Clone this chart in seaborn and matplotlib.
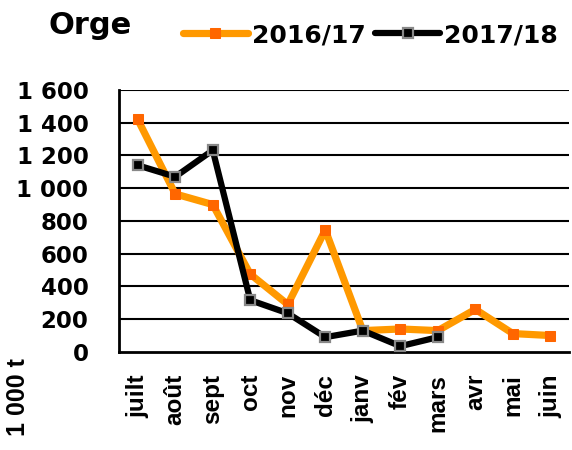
import numpy as np
import pandas as pd
import matplotlib
matplotlib.use("Agg")
import matplotlib.pyplot as plt
import seaborn as sns

# monthly values, 1 000 t
months = ['juilt', 'août', 'sept', 'oct', 'nov', 'déc', 'janv', 'fév', 'mars', 'avr', 'mai', 'juin']
vals_1617 = [1420, 965, 900, 475, 290, 745, 130, 140, 130, 260, 112, 100]
vals_1718 = [1140, 1070, 1232, 316, 236, 90, 130, 35, 90, np.nan, np.nan, np.nan]
yticks = [0, 200, 400, 600, 800, 1000, 1200, 1400, 1600]
ytick_labels = ['0', '200', '400', '600', '800', '1 000', '1 200', '1 400', '1 600']

sns.set_theme(style="white")
plt.rcParams['font.family'] = ['Liberation Sans', 'DejaVu Sans']
plt.rcParams['font.weight'] = 'bold'
plt.rcParams['text.color'] = 'black'
plt.rcParams['xtick.color'] = 'black'
plt.rcParams['ytick.color'] = 'black'
plt.rcParams['xtick.labelcolor'] = 'black'
plt.rcParams['ytick.labelcolor'] = 'black'

wide = ['DejaVu Sans']          # horizontal texts look stretched in the original
narrow = ['Liberation Sans', 'DejaVu Sans']

df = pd.DataFrame({'pos': np.arange(len(months)), 'month': months,
                   '2016/17': vals_1617, '2017/18': vals_1718})

fig = plt.figure(figsize=(5.72, 4.5), dpi=100)
ax = fig.add_axes([0.208, 0.218, 0.787, 0.582])

# horizontal grid lines
for y in yticks[1:]:
    ax.axhline(y, color='black', lw=1.5, zorder=0)

sns.lineplot(data=df, x='pos', y='2016/17', ax=ax, color='#FF9900', lw=5.2,
             marker='s', markersize=7, markerfacecolor='#FF6600',
             markeredgecolor='#FF6600', label='2016/17', zorder=2)
sns.lineplot(data=df.dropna(), x='pos', y='2017/18', ax=ax, color='black', lw=4.5,
             marker='s', markersize=6.5, markerfacecolor='black',
             markeredgecolor='#888888', markeredgewidth=1.6, label='2017/18', zorder=3)

ax.set_xlim(-0.5, len(months) - 0.5)
ax.set_ylim(0, 1600)
ax.set_xticks(df['pos'])
ax.set_xticklabels(months, rotation=90, fontsize=17.5, fontweight='bold', family=narrow)
ax.set_yticks(yticks)
ax.set_yticklabels(ytick_labels, fontsize=16.5, fontweight='bold', family=wide)
ax.tick_params(axis='x', length=0, pad=16)
ax.tick_params(axis='y', length=0, pad=22)
ax.set_xlabel('')
ax.set_ylabel('')

for side in ['top', 'right']:
    ax.spines[side].set_visible(False)
for side in ['left', 'bottom']:
    ax.spines[side].set_color('black')
    ax.spines[side].set_linewidth(2)

handles, labels = ax.get_legend_handles_labels()
ax.legend_.remove()
fig.legend(handles, labels, loc='center left', bbox_to_anchor=(0.28, 0.922),
           ncol=2, frameon=False, handlelength=2.6, handletextpad=0.16,
           columnspacing=0.4, prop={'size': 18, 'weight': 'bold', 'family': wide})

fig.text(0.084, 0.944, 'Orge', fontsize=22, fontweight='bold', va='center',
         family=wide, color='black')
fig.text(0.032, 0.118, '1 000 t', fontsize=18, fontweight='bold', rotation=90,
         ha='center', va='center', family=narrow, color='black')

fig.savefig('out.png', dpi=100)
